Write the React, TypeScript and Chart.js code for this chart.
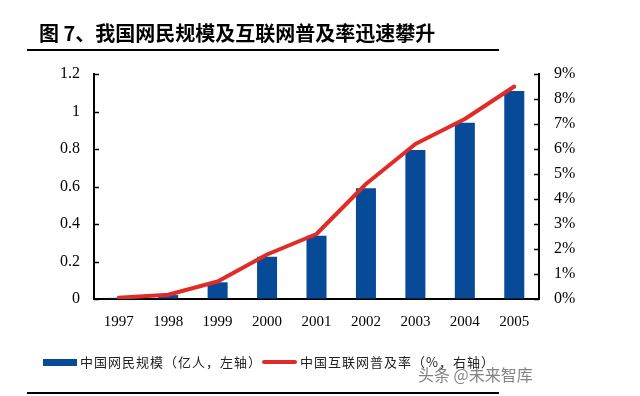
import React, { useEffect, useRef } from "react";
import { Chart, registerables } from "chart.js";

Chart.register(...registerables);

const years = ["1997", "1998", "1999", "2000", "2001", "2002", "2003", "2004", "2005"];
const netizens = [0.0062, 0.021, 0.089, 0.225, 0.337, 0.591, 0.795, 0.94, 1.11];
const penetration = [0.05, 0.17, 0.7, 1.78, 2.6, 4.6, 6.2, 7.2, 8.5];
const titleText = "图 7、我国网民规模及互联网普及率迅速攀升";
const barLabel = "中国网民规模（亿人，左轴）";
const lineLabel = "中国互联网普及率（%，右轴）";
const watermark = "头条 @未来智库";

const BLUE = "#074a97";
const RED = "#e02b27";
const SERIF = "'Liberation Serif', 'Times New Roman', serif";
const CJK = "'Noto Sans CJK SC', 'Noto Sans', sans-serif";

const innerTicks = {
  id: "innerTicks",
  afterDraw(chart: any) {
    const ctx = chart.ctx;
    const { left, right } = chart.chartArea;
    ctx.save();
    ctx.strokeStyle = "#000";
    ctx.lineWidth = 1.5;
    const y = chart.scales.y;
    y.ticks.forEach((t: any) => {
      const p = Math.round(y.getPixelForValue(t.value)) + 0.5;
      ctx.beginPath();
      ctx.moveTo(left, p);
      ctx.lineTo(left + 5, p);
      ctx.stroke();
    });
    const y1 = chart.scales.y1;
    y1.ticks.forEach((t: any) => {
      const p = Math.round(y1.getPixelForValue(t.value)) + 0.5;
      ctx.beginPath();
      ctx.moveTo(right - 5, p);
      ctx.lineTo(right, p);
      ctx.stroke();
    });
    ctx.restore();
  },
};

export default function App() {
  const ref = useRef<HTMLCanvasElement>(null);
  useEffect(() => {
    if (!ref.current) return;
    const chart = new Chart(ref.current, {
      type: "bar",
      data: {
        labels: years,
        datasets: [
          {
            type: "bar",
            label: barLabel,
            data: netizens,
            backgroundColor: BLUE,
            yAxisID: "y",
            barPercentage: 0.405,
            categoryPercentage: 1,
            order: 1,
          },
          {
            type: "line",
            label: lineLabel,
            data: penetration,
            borderColor: RED,
            borderWidth: 4,
            pointRadius: 0,
            tension: 0,
            borderCapStyle: "round",
            borderJoinStyle: "round",
            yAxisID: "y1",
            order: 0,
          } as any,
        ],
      },
      options: {
        animation: false,
        responsive: false,
        maintainAspectRatio: false,
        layout: { padding: { left: 0, right: 0, top: 74, bottom: 0 } },
        plugins: { legend: { display: false }, tooltip: { enabled: false }, title: { display: false } },
        scales: {
          x: {
            offset: true,
            grid: { display: true, drawOnChartArea: false, drawTicks: false },
            border: { display: true, color: "#000", width: 2 },
            ticks: { color: "#000", font: { family: SERIF, size: 15 }, padding: 14, maxRotation: 0 },
            afterFit: (s: any) => { s.height = 97; },
          },
          y: {
            position: "left",
            min: 0,
            max: 1.2,
            ticks: {
              stepSize: 0.2,
              color: "#000",
              font: { family: SERIF, size: 16 },
              padding: 14,
              callback: (v: any) => String(Number(Number(v).toFixed(1))),
            },
            grid: { display: true, drawOnChartArea: false, drawTicks: false },
            border: { display: true, color: "#000", width: 2 },
            afterFit: (s: any) => { s.width = 94; },
          },
          y1: {
            position: "right",
            min: 0,
            max: 9,
            ticks: {
              stepSize: 1,
              color: "#000",
              font: { family: SERIF, size: 16 },
              padding: 15,
              callback: (v: any) => `${v}%`,
            },
            grid: { display: true, drawOnChartArea: false, drawTicks: false },
            border: { display: true, color: "#000", width: 2 },
            afterFit: (s: any) => { s.width = 101; },
          },
        },
      },
      plugins: [innerTicks],
    });
    return () => chart.destroy();
  }, []);

  return (
    <div style={{ position: "absolute", left: 0, top: 0, width: 640, height: 396, background: "#fff", overflow: "hidden" }}>
      <canvas ref={ref} width={640} height={396} style={{ position: "absolute", left: 0, top: 0 }} />
      <div style={{ position: "absolute", left: 39, top: 21, fontFamily: CJK, fontWeight: 700, fontSize: 20, lineHeight: "24px", color: "#000", whiteSpace: "nowrap" }}>
        {titleText}
      </div>
      <div style={{ position: "absolute", left: 27, top: 49, width: 472, height: 2, background: "#000" }} />
      <div style={{ position: "absolute", left: 43, top: 359, width: 34, height: 7, background: BLUE }} />
      <div style={{ position: "absolute", left: 80, top: 353, fontFamily: CJK, fontSize: 13, letterSpacing: 1, lineHeight: "18px", color: "#222", whiteSpace: "nowrap" }}>
        {barLabel}
      </div>
      <div style={{ position: "absolute", left: 262, top: 360, width: 35, height: 4, borderRadius: 2, background: RED }} />
      <div style={{ position: "absolute", left: 300, top: 353, fontFamily: CJK, fontSize: 13, letterSpacing: 1, lineHeight: "18px", color: "#222", whiteSpace: "nowrap" }}>
        {lineLabel}
      </div>
      <div style={{ position: "absolute", left: 418, top: 364, fontFamily: CJK, fontSize: 16, lineHeight: "20px", color: "rgba(90,90,90,0.75)", whiteSpace: "nowrap" }}>
        {watermark}
      </div>
      <div style={{ position: "absolute", left: 27, top: 392, width: 472, height: 2, background: "#000" }} />
    </div>
  );
}
